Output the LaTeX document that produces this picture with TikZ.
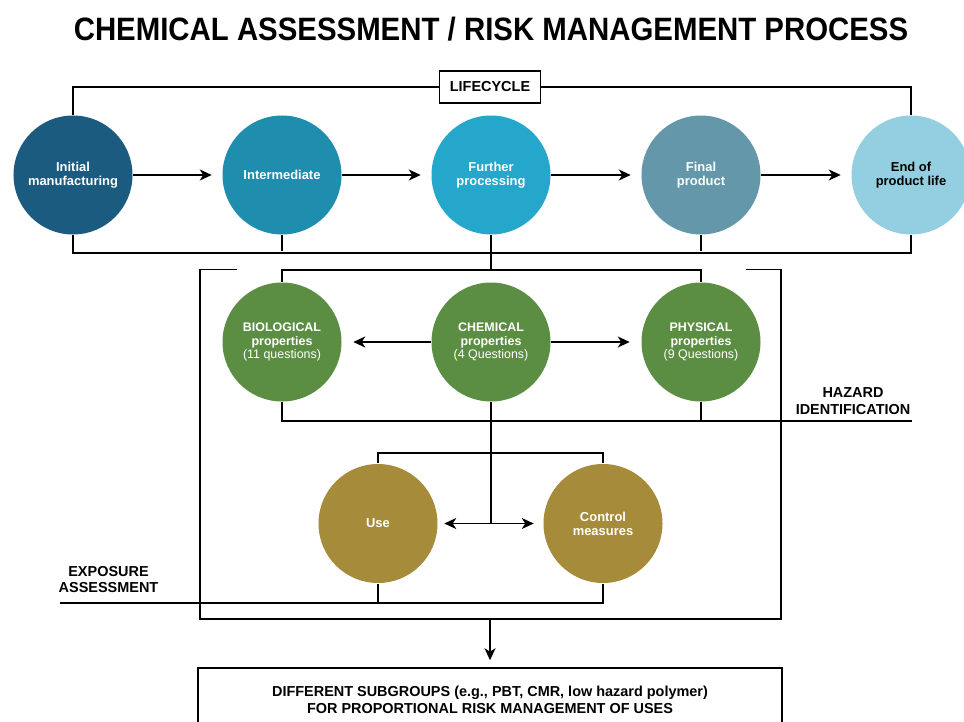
\documentclass[tikz,border=0pt]{standalone}
\usepackage{fontspec}
\setmainfont{Liberation Sans}
\usetikzlibrary{arrows.meta}
\definecolor{cA}{HTML}{1C5B80}
\definecolor{cB}{HTML}{1F8DAE}
\definecolor{cC}{HTML}{25A6CB}
\definecolor{cD}{HTML}{6497A9}
\definecolor{cE}{HTML}{93CFE1}
\definecolor{cG}{HTML}{5B8E42}
\definecolor{cO}{HTML}{A68B3B}
\begin{document}
\begin{tikzpicture}[x=1bp,y=-1bp,line width=1.5bp,
  circ/.style={circle,minimum size=119bp,inner sep=0pt,align=center,text=white,font=\bfseries\fontsize{13}{14}\selectfont},
  gcirc/.style={circ,fill=cG,font=\bfseries\fontsize{12.5}{13.5}\selectfont},
  ocirc/.style={circ,fill=cO},
  arr/.style={-{Stealth[length=12bp,width=11bp,inset=3.5bp]}},
  darr/.style={{Stealth[length=12bp,width=11bp,inset=3.5bp]}-{Stealth[length=12bp,width=11bp,inset=3.5bp]}},
  lbl/.style={font=\bfseries\fontsize{14.5}{17}\selectfont,align=center,inner sep=0pt},
  boxlbl/.style={lbl,font=\bfseries\fontsize{14.5}{16.6}\selectfont}
]
\useasboundingbox (0,0) rectangle (964,722);
\fill[white] (0,0) rectangle (964,722);
\clip (0,0) rectangle (964,722);

\node[font=\bfseries\fontsize{29.5}{32}\selectfont,inner sep=0pt] (title) at (491,29) {\scalebox{1}[1.1]{CHEMICAL ASSESSMENT / RISK MANAGEMENT PROCESS}};

% lifecycle
\node[circ,fill=cA] (c1) at (73,175) {Initial\\manufacturing};
\node[circ,fill=cB] (c2) at (282,175) {Intermediate};
\node[circ,fill=cC] (c3) at (491,175) {Further\\processing};
\node[circ,fill=cD] (c4) at (701,175) {Final\\product};
\node[circ,fill=cE,text=black] (c5) at (911,175) {End of\\product life};

\node[lbl,draw,fill=white,minimum width=101bp,minimum height=32bp] (lc) at (490,87) {LIFECYCLE};
\draw (c1.north) |- (lc.west);
\draw (lc.east) -| (c5.north);

\draw[arr,shorten >=10bp] (c1) -- (c2);
\draw[arr,shorten >=10bp] (c2) -- (c3);
\draw[arr,shorten >=10bp] (c3) -- (c4);
\draw[arr,shorten >=10bp] (c4) -- (c5);

\coordinate (lb) at (0,253);
\draw (c1.south) -- (c1.south |- lb) -- (c5.south |- lb) -- (c5.south);
\draw (c2.south) -- ++(0,16);
\draw (c4.south) -- ++(0,16);

% hazard identification
\node[gcirc] (bio) at (282,342) {BIOLOGICAL\\properties\\{\mdseries (11 questions)}};
\node[gcirc] (chem) at (491,342) {CHEMICAL\\properties\\{\mdseries (4 Questions)}};
\node[gcirc] (phy) at (701,342) {PHYSICAL\\properties\\{\mdseries (9 Questions)}};

\coordinate (hz) at (0,270);
\draw (c3.south) -- (c3.south |- hz);
\draw (bio.north) -- (bio.north |- hz) -- (phy.north |- hz) -- (phy.north);

\draw[arr,shorten >=11bp] (chem) -- (bio);
\draw[arr,shorten >=11bp] (chem) -- (phy);

\coordinate (hl) at (912,421);
\draw (bio.south) |- (hl);
\draw (phy.south) -- (phy.south |- hl);
\node[lbl] (hzl) at (853,401.5) {HAZARD\\IDENTIFICATION};

% exposure assessment
\node[ocirc] (use) at (378,523.5) {Use};
\node[ocirc] (ctl) at (603,523.5) {Control\\measures};
\coordinate (da) at (491,524);
\draw (chem.south) -- (chem.south |- da);
\coordinate (et) at (0,453);
\draw (use.north) -- (use.north |- et) -| (ctl.north);
\draw[darr,shorten <=6bp,shorten >=9bp] (use) -- (ctl);
\coordinate (el) at (60,603);
\draw (ctl.south) |- (el);
\draw (use.south) -- (use.south |- el);
\node[lbl] (exl) at (108.5,579.5) {EXPOSURE\\ASSESSMENT};

% big bracket
\coordinate (tl1) at (237,269.5);
\coordinate (tl0) at (200,269.5);
\coordinate (bl) at (200,619);
\coordinate (br) at (781,619);
\coordinate (tr0) at (781,269.5);
\coordinate (tr1) at (746,269.5);
\draw (tl1) -- (tl0) -- (bl) -- (br) -- (tr0) -- (tr1);

% result
\node[boxlbl,draw,minimum width=584bp,minimum height=64bp] (bx) at (490,700) {DIFFERENT SUBGROUPS (e.g., PBT, CMR, low hazard polymer)\\FOR PROPORTIONAL RISK MANAGEMENT OF USES};
\coordinate (ab) at (bl -| bx.north);
\draw[arr,shorten >=7bp] (ab) -- (bx.north);
\end{tikzpicture}
\end{document}
